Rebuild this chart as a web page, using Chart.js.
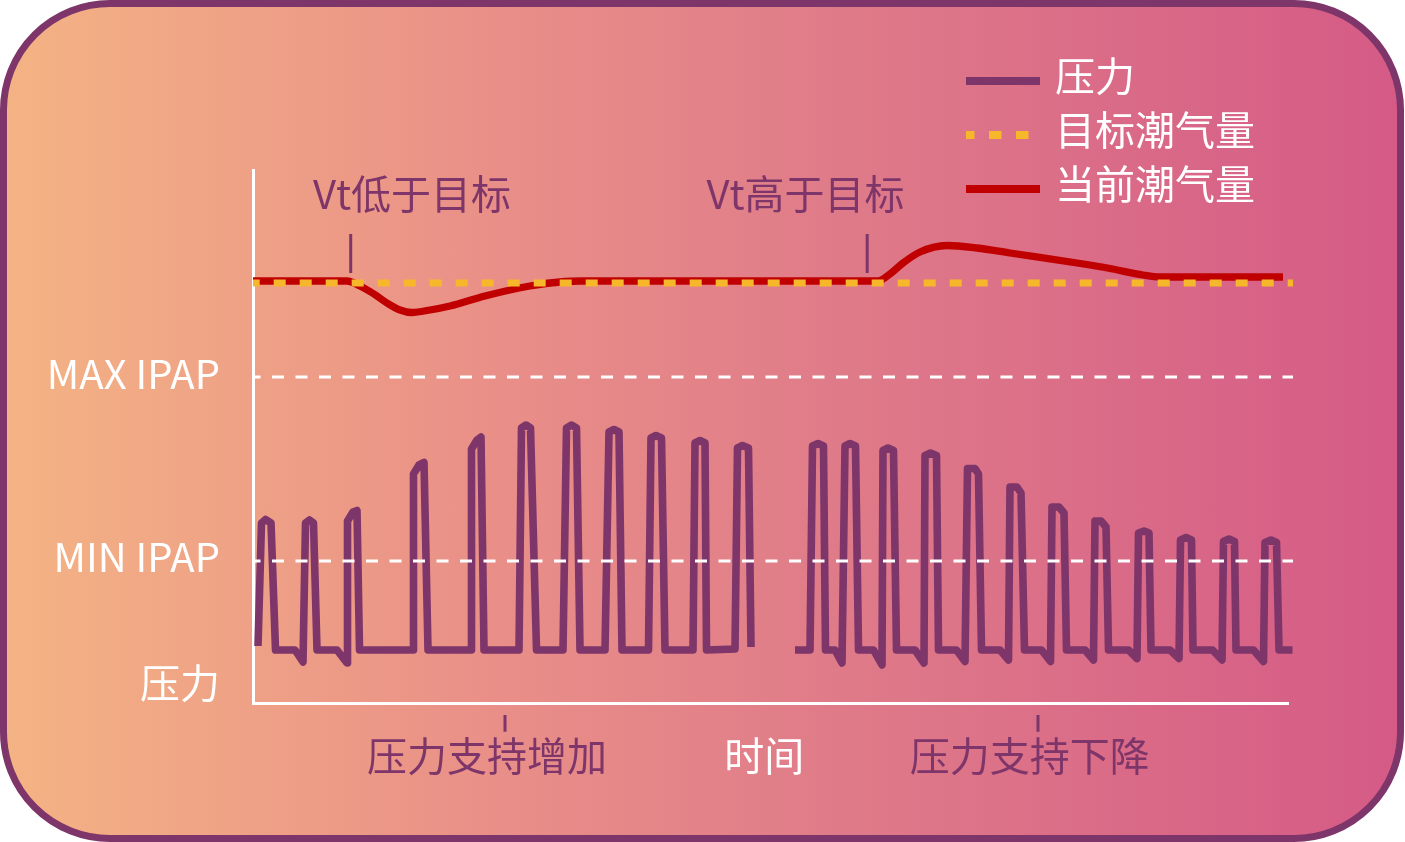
<!DOCTYPE html>
<html>
<head>
<meta charset="utf-8">
<script src="https://cdn.jsdelivr.net/npm/chart.js@4.4.1/dist/chart.umd.min.js"></script>
<style>
  html, body { margin: 0; padding: 0; background: #ffffff; width: 1405px; height: 842px; overflow: hidden; }
  #frame {
    position: absolute; left: 0; top: 0; width: 1404px; height: 842px; box-sizing: border-box;
    border: 7.5px solid #7e3569; border-radius: 110px;
    background: linear-gradient(90deg, #f4b384 0%, #e98f88 35%, #df7b89 60%, #d55b86 100%);
  }
  #c { position: absolute; left: 0; top: 0; }
</style>
</head>
<body>
<div id="frame"></div>
<canvas id="c" width="1405" height="842"></canvas>
<script>
// ---------------- data ----------------
const seriesLabels = ['压力', '目标潮气量', '当前潮气量'];

const timeTickValues = [23.39, 51.13, 77.67];
const timeTickLabels = ['压力支持增加', '时间', '压力支持下降'];

const pressureTickValues = [32.9, 14.6, 2.05];
const pressureTickLabels = ['MAX IPAP', 'MIN IPAP', '压力'];

const maxIpap = 32.6;
const minIpap = 14.2;
const thresholdSpan = [0, 104.0];

const targetVt = 42.0;
const targetSpan = [0, 104.0];

const currentVtTime  = [0, 9.4, 10.7, 12.1, 13.4, 14.7, 15.9, 17.7, 19.7, 23.2, 27.7, 31.2, 32.7, 62.5, 63.7, 65.0, 66.7, 69.4, 72.4, 75.7, 82.4, 85.7, 89.0, 90.7, 103.0];
const currentVtValue = [42.2, 42.2, 41.7, 40.9, 40.0, 39.3, 39.05, 39.3, 39.7, 40.7, 41.7, 42.15, 42.2, 42.2, 42.9, 44.0, 45.1, 45.75, 45.5, 45.0, 44.0, 43.45, 42.8, 42.6, 42.6];

const pressureTime = [
  0.50, 0.85, 1.25, 1.80, 2.25, 4.20, 5.00, 5.25, 5.65, 6.05, 6.40, 8.40, 9.40, 9.45, 10.00, 10.40, 10.65,
  16.00, 16.05, 16.60, 17.10, 17.50, 21.80, 21.85, 22.40, 22.80, 23.10,
  26.60, 26.85, 27.30, 27.75, 28.35, 31.00, 31.35, 31.85, 32.35, 32.70,
  35.20, 35.60, 36.10, 36.60, 36.90, 39.55, 39.80, 40.30, 40.85, 41.20,
  44.00, 44.20, 44.70, 45.20, 45.35, 48.20, 48.45, 48.95, 49.55, 49.80,
  52.00,
  54.20, 55.70, 55.95, 56.50, 57.05, 57.25, 58.20, 58.90, 59.20, 59.70, 60.25, 60.55,
  62.05, 62.90, 63.00, 63.50, 64.05, 64.35, 66.20, 67.10, 67.20, 67.75, 68.35, 68.55,
  70.35, 71.20, 71.45, 72.20, 72.55, 72.85, 74.70, 75.55, 75.70, 76.40, 76.80, 77.15,
  78.85, 79.75, 79.90, 80.60, 81.10, 81.35, 83.20, 84.05, 84.20, 84.80, 85.30, 85.55,
  87.55, 88.40, 88.55, 89.10, 89.60, 89.80, 91.70, 92.60, 92.75, 93.30, 93.85, 94.00,
  95.95, 96.90, 97.05, 97.60, 98.15, 98.30, 100.05, 101.05, 101.20, 101.80, 102.35, 102.60, 103.95
];
const pressureValue = [
  5.70, 18.00, 18.35, 18.00, 5.30, 5.30, 4.10, 18.00, 18.30, 18.00, 5.30, 5.30, 4.00, 18.20, 19.10, 19.25, 5.30,
  5.30, 22.90, 23.80, 24.05, 5.30, 5.30, 25.40, 26.30, 26.60, 5.30,
  5.30, 27.50, 27.80, 27.50, 5.30, 5.30, 27.50, 27.80, 27.50, 5.30,
  5.30, 27.10, 27.35, 27.10, 5.30, 5.30, 26.50, 26.75, 26.50, 5.30,
  5.30, 26.00, 26.25, 26.00, 5.30, 5.40, 25.50, 25.75, 25.50, 5.60,
  null,
  5.30, 5.30, 25.70, 25.95, 25.70, 5.30, 5.30, 4.00, 25.70, 25.95, 25.70, 5.30,
  5.30, 3.80, 25.25, 25.50, 25.25, 5.30, 5.30, 4.00, 24.75, 25.00, 24.75, 5.30,
  5.30, 4.15, 23.45, 23.45, 22.90, 5.30, 5.30, 4.30, 21.60, 21.60, 21.00, 5.30,
  5.30, 4.15, 19.60, 19.60, 19.00, 5.30, 5.30, 4.30, 18.20, 18.20, 17.60, 5.30,
  5.30, 4.45, 17.00, 17.20, 17.00, 5.30, 5.30, 4.45, 16.30, 16.55, 16.30, 5.30,
  5.30, 4.30, 16.15, 16.40, 16.15, 5.30, 5.30, 4.15, 16.05, 16.30, 16.05, 5.30, 5.30
];

const markerTime = [9.77, 61.42, 25.2, 78.5];
const markerFrom = [43.0, 43.0, -1.2, -1.2];
const markerTo   = [46.9, 46.9, -2.87, -2.87];

const noteText  = ['Vt低于目标', 'Vt高于目标'];
const noteTime  = [6.0, 45.35];
const noteLevel = [50.9, 50.9];

// ---------------- styles ----------------
const PURPLE = '#7e3569';
const ORANGE = '#f6b82a';
const RED = '#c00000';
const WHITE = '#ffffff';
const FONT = "'Noto Sans CJK SC', 'Noto Sans', sans-serif";

const xy = (xs, ys) => xs.map((x, i) => ({ x: x, y: ys[i] }));

const datasets = [];
// dashed threshold lines (on top)
[maxIpap, minIpap].forEach(v => datasets.push({
  label: 'threshold', data: xy(thresholdSpan, [v, v]),
  borderColor: WHITE, borderWidth: 3, borderDash: [12, 11.5], borderDashOffset: 4.5,
  pointRadius: 0, clip: false, order: 1
}));
// markers
markerTime.forEach((t, i) => datasets.push({
  label: 'marker', data: xy([t, t], [markerFrom[i], markerTo[i]]),
  borderColor: PURPLE, borderWidth: 3, pointRadius: 0, clip: false, order: 1
}));
datasets.push({
  label: seriesLabels[0], legendRow: 0, data: xy(pressureTime, pressureValue),
  borderColor: PURPLE, borderWidth: 7.6, borderJoinStyle: 'round', borderCapStyle: 'butt',
  pointRadius: 0, spanGaps: false, tension: 0, clip: false, order: 2
});
datasets.push({
  label: seriesLabels[1], legendRow: 1, legendDash: [12.5, 14.5], legendDashOffset: 4,
  data: xy(targetSpan, [targetVt, targetVt]),
  borderColor: ORANGE, borderWidth: 7, borderDash: [12, 14], borderDashOffset: 5.3,
  pointRadius: 0, clip: false, order: 3
});
datasets.push({
  label: seriesLabels[2], legendRow: 2, data: xy(currentVtTime, currentVtValue),
  borderColor: RED, borderWidth: 7.3, cubicInterpolationMode: 'monotone',
  pointRadius: 0, clip: false, order: 4
});

const notesPlugin = {
  id: 'notes',
  afterDatasetsDraw(chart, args, opts) {
    const c = chart.ctx, xs = chart.scales.x, ys = chart.scales.y;
    c.save();
    c.font = opts.size + 'px ' + FONT;
    c.fillStyle = opts.color;
    c.textAlign = 'left';
    c.textBaseline = 'middle';
    noteText.forEach((t, i) => c.fillText(t, xs.getPixelForValue(noteTime[i]), ys.getPixelForValue(noteLevel[i])));
    c.restore();
  }
};

const sideLegendPlugin = {
  id: 'sideLegend',
  afterDraw(chart, args, opts) {
    const c = chart.ctx;
    c.save();
    chart.data.datasets.forEach(ds => {
      if (ds.legendRow === undefined) return;
      const yText = opts.top + ds.legendRow * opts.rowGap;
      const yLine = yText + opts.lineOffset;
      c.strokeStyle = ds.borderColor;
      c.lineWidth = opts.lineWidth;
      c.lineCap = 'butt';
      c.setLineDash(ds.legendDash || []);
      c.lineDashOffset = ds.legendDashOffset || 0;
      c.beginPath();
      c.moveTo(opts.left, yLine);
      c.lineTo(opts.left + (ds.legendDash ? opts.dashLength : opts.lineLength), yLine);
      c.stroke();
      c.setLineDash([]);
      c.fillStyle = opts.color;
      c.font = opts.size + 'px ' + FONT;
      c.textAlign = 'left';
      c.textBaseline = 'middle';
      c.fillText(ds.label, opts.left + opts.lineLength + opts.gap, yText);
    });
    c.restore();
  }
};

new Chart(document.getElementById('c'), {
  type: 'line',
  data: { datasets: datasets },
  plugins: [notesPlugin, sideLegendPlugin],
  options: {
    responsive: false,
    animation: false,
    events: [],
    layout: { padding: { top: 170, right: 117, bottom: 0, left: 0 } },
    plugins: {
      legend: { display: false },
      tooltip: { enabled: false },
      notes: { size: 40, color: PURPLE },
      sideLegend: { left: 966, top: 76, rowGap: 54, lineOffset: 5, lineWidth: 8, lineLength: 74, dashLength: 65, gap: 15, size: 40, color: WHITE }
    },
    scales: {
      x: {
        type: 'linear', position: 'bottom', min: 0, max: 103.5,
        grid: { display: false, drawTicks: false },
        border: { display: true, color: WHITE, width: 3 },
        afterBuildTicks: s => { s.ticks = timeTickValues.map(v => ({ value: v })); },
        afterFit: s => { s.height = 139; },
        ticks: {
          autoSkip: false, maxRotation: 0, padding: 29,
          font: { family: FONT, size: 40 },
          color: ctx => (ctx.index === 1 ? WHITE : PURPLE),
          callback: (v, i) => timeTickLabels[i]
        }
      },
      y: {
        type: 'linear', position: 'left', min: 0, max: 53.3,
        grid: { display: false, drawTicks: false },
        border: { display: true, color: WHITE, width: 3 },
        afterBuildTicks: s => { s.ticks = pressureTickValues.map(v => ({ value: v })); },
        afterFit: s => { s.width = 253; },
        ticks: {
          autoSkip: false, padding: 33,
          font: { family: FONT, size: 40 },
          color: WHITE,
          callback: (v, i) => pressureTickLabels[i]
        }
      }
    }
  }
});
</script>
</body>
</html>
